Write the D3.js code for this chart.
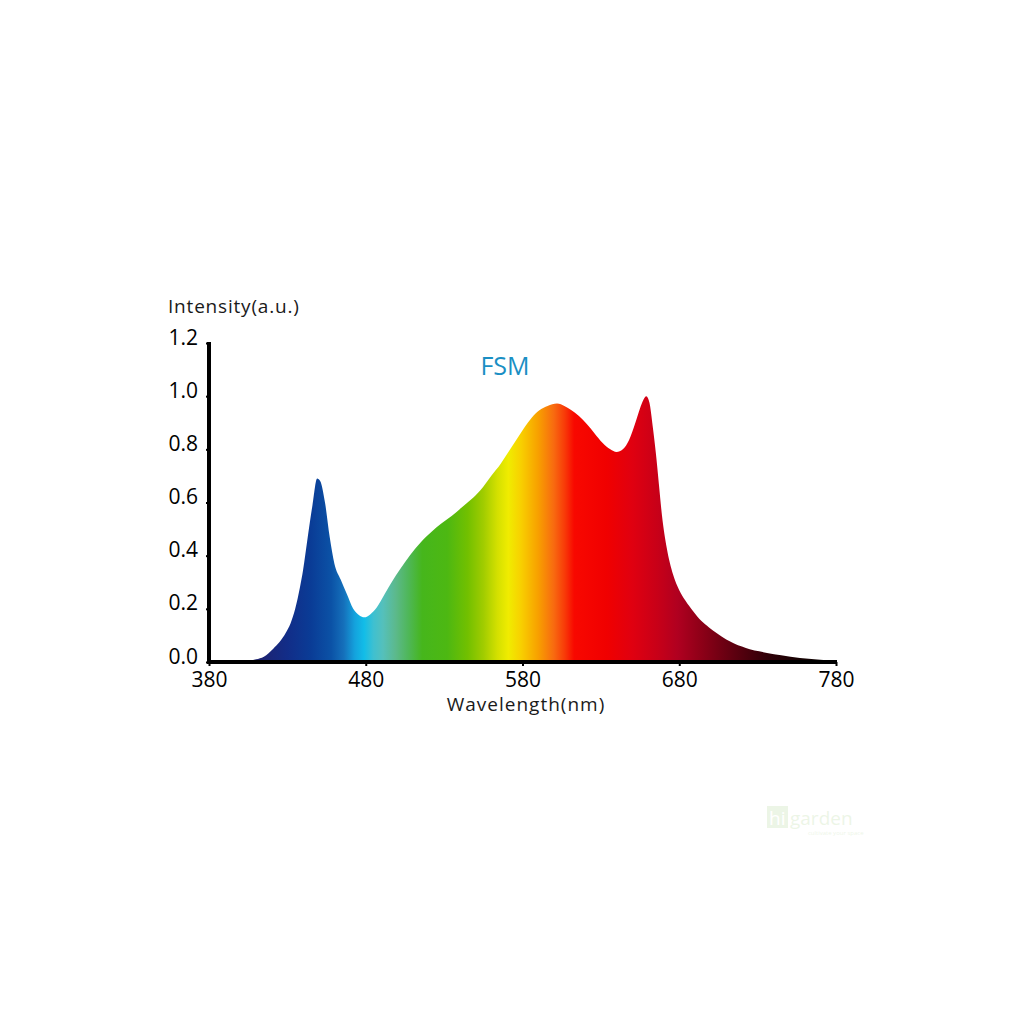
<!DOCTYPE html>
<html>
<head>
<meta charset="utf-8">
<script src="https://cdn.jsdelivr.net/npm/d3@7"></script>
<style>
  html, body { margin: 0; padding: 0; background: #ffffff; }
  svg { display: block; }
</style>
</head>
<body>
<svg id="chart" width="1024" height="1024"></svg>
<script>
// ---- data ----
const wavelengths = [380, 400, 405, 410, 415, 421, 425, 429, 432, 435, 438, 440, 443, 446, 449, 451, 454, 457, 460, 464, 468, 472, 476, 479, 483, 487, 492, 497, 502, 508, 515, 522, 528, 535, 541, 547, 553, 560, 566, 571, 576, 581, 586, 591, 596, 602, 607, 611, 616, 621, 626, 631, 636, 640, 644, 648, 652, 655, 657, 659, 661, 663, 665, 667, 669, 672, 676, 680, 684, 689, 694, 699, 704, 710, 715, 720, 725, 731, 736, 745, 757, 768, 780];
const intensity   = [0, 0, 0.003, 0.01, 0.02, 0.05, 0.075, 0.11, 0.145, 0.2, 0.28, 0.345, 0.47, 0.59, 0.69, 0.68, 0.6, 0.47, 0.37, 0.31, 0.255, 0.2, 0.175, 0.168, 0.18, 0.205, 0.255, 0.305, 0.35, 0.4, 0.45, 0.49, 0.52, 0.55, 0.58, 0.61, 0.645, 0.7, 0.745, 0.79, 0.835, 0.88, 0.92, 0.948, 0.963, 0.972, 0.962, 0.948, 0.925, 0.895, 0.86, 0.825, 0.8, 0.79, 0.8, 0.835, 0.9, 0.955, 0.985, 1.0, 0.975, 0.89, 0.79, 0.67, 0.55, 0.43, 0.33, 0.27, 0.23, 0.19, 0.155, 0.13, 0.108, 0.085, 0.07, 0.058, 0.048, 0.04, 0.034, 0.025, 0.015, 0.009, 0.004];
const xTicks = [380, 480, 580, 680, 780];
const yTicks = [0.0, 0.2, 0.4, 0.6, 0.8, 1.0, 1.2];
const seriesName = "FSM";
const xTitle = "Wavelength(nm)";
const yTitle = "Intensity(a.u.)";

// spectral colour stops (wavelength -> colour), styling only
const spectrumStops = [
  [400, "#1b1a5e"], [415, "#1c2474"], [430, "#122d88"], [445, "#0a3c96"],
  [458, "#0b52a6"], [466, "#1570bb"], [473, "#14a2dd"], [479, "#12bde8"],
  [485, "#3fc0d0"], [491, "#55c0bb"], [499, "#5cb98c"], [507, "#4fb75a"],
  [516, "#46b61c"], [532, "#4db812"], [545, "#72c000"], [555, "#a0cc00"],
  [564, "#d4e000"], [571, "#f0ec00"], [579, "#f8d000"], [590, "#f8a000"],
  [600, "#f86a10"], [607, "#f83a08"], [613, "#f80800"], [634, "#f00000"],
  [650, "#e00010"], [666, "#c80018"], [679, "#b00020"], [693, "#900018"],
  [714, "#600010"], [736, "#300008"], [757, "#160202"], [780, "#080000"]
];

const data = wavelengths.map((w, i) => ({ w: w, v: intensity[i] }));

// ---- layout ----
const svg = d3.select("#chart");
const x = d3.scaleLinear().domain([380, 780]).range([209, 836]);
const y = d3.scaleLinear().domain([0, 1.2]).range([662, 343]);

// faint watermark
const wm = svg.append("g").attr("opacity", 0.18);
wm.append("rect").attr("x", 767).attr("y", 806).attr("width", 21).attr("height", 22).attr("fill", "#9ccc7a");
wm.append("text").attr("x", 769).attr("y", 825).attr("font-family", "Open Sans").attr("font-size", 19)
  .attr("fill", "#ffffff").text("hi");
wm.append("text").attr("x", 790).attr("y", 825).attr("font-family", "Open Sans").attr("font-size", 19)
  .attr("fill", "#9ccc7a").text("garden");
wm.append("text").attr("x", 808).attr("y", 835).attr("font-family", "Open Sans").attr("font-size", 6)
  .attr("fill", "#9ccc7a").text("cultivate your space");

// gradient
const defs = svg.append("defs");
const grad = defs.append("linearGradient")
  .attr("id", "spec")
  .attr("gradientUnits", "userSpaceOnUse")
  .attr("x1", x(380)).attr("x2", x(780)).attr("y1", 0).attr("y2", 0);
grad.selectAll("stop").data(spectrumStops).enter().append("stop")
  .attr("offset", d => ((d[0] - 380) / 400))
  .attr("stop-color", d => d[1]);

// area
const area = d3.area()
  .x(d => x(d.w))
  .y0(y(0))
  .y1(d => y(d.v))
  .curve(d3.curveMonotoneX);

svg.append("path")
  .datum(data)
  .attr("d", area)
  .attr("fill", "url(#spec)");

// axes
const fontFam = "'Open Sans', 'Noto Sans', sans-serif";

const xAxis = svg.append("g")
  .attr("transform", `translate(0,${y(0)})`)
  .call(d3.axisBottom(x).tickValues(xTicks).tickFormat(d3.format("d")).tickSize(4).tickSizeOuter(0).tickPadding(6));
xAxis.select(".domain").attr("stroke", "#000").attr("stroke-width", 4)
  .attr("d", `M${x(380) - 2},0H${x(780) + 1}`);
xAxis.selectAll(".tick line").attr("stroke", "#000").attr("stroke-width", 2);
xAxis.selectAll(".tick text").attr("font-family", fontFam).attr("font-size", 21).attr("fill", "#000");

const yAxis = svg.append("g")
  .attr("transform", `translate(${x(380)},0)`)
  .call(d3.axisLeft(y).tickValues(yTicks).tickFormat(d3.format(".1f")).tickSize(3).tickSizeOuter(0).tickPadding(8));
yAxis.select(".domain").attr("stroke", "#000").attr("stroke-width", 4)
  .attr("d", `M0,${y(1.2) - 1}V${y(0) + 2}`);
yAxis.selectAll(".tick line").attr("stroke", "#000").attr("stroke-width", 2);
yAxis.selectAll(".tick text").attr("font-family", fontFam).attr("font-size", 21).attr("fill", "#000")
  .attr("dy", "0.05em");

// titles
svg.append("text")
  .attr("x", 168).attr("y", 313)
  .attr("font-family", fontFam).attr("font-size", 19).attr("letter-spacing", 0.8)
  .attr("fill", "#1a1a1a").text(yTitle);

svg.append("text")
  .attr("x", 526).attr("y", 711)
  .attr("text-anchor", "middle")
  .attr("font-family", fontFam).attr("font-size", 19).attr("letter-spacing", 1)
  .attr("fill", "#1a1a1a").text(xTitle);

svg.append("text")
  .attr("x", 505).attr("y", 375)
  .attr("text-anchor", "middle")
  .attr("font-family", fontFam).attr("font-size", 25)
  .attr("fill", "#1a8fc4").text(seriesName);
</script>
</body>
</html>
